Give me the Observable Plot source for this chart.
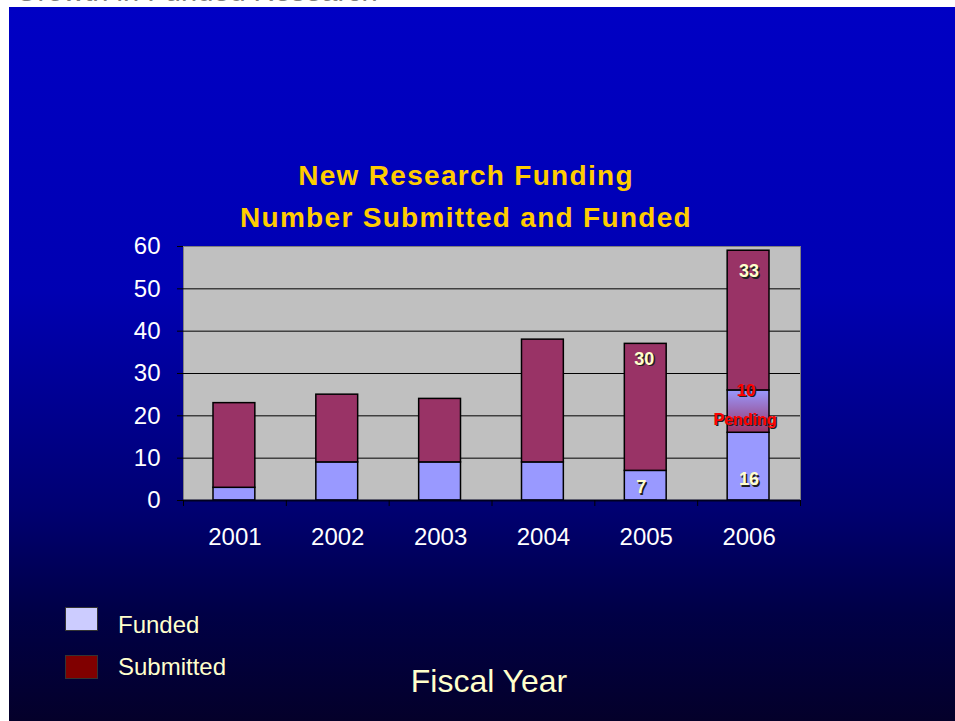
<!DOCTYPE html>
<html>
<head>
<meta charset="utf-8">
<script src="https://cdn.jsdelivr.net/npm/d3@7"></script>
<script src="https://cdn.jsdelivr.net/npm/@observablehq/plot@0.6"></script>
<style>
  html, body { margin: 0; padding: 0; background: #fff; }
  body { width: 955px; height: 721px; position: relative; overflow: hidden; font-family: "Liberation Sans", Arial, sans-serif; }
  #toptext { position: absolute; left: 15px; top: -23px; font-size: 29px; line-height: 29px; color: #808080; white-space: nowrap; }
  #bg { position: absolute; left: 9px; top: 7px; width: 946px; height: 714px;
        background: linear-gradient(to bottom, #0000C4 0%, #0000B2 40%, #000072 70%, #000046 85%, #04002A 100%); }
  .title { position: absolute; left: 166px; width: 600px; text-align: center; color: #FFCC00; font-weight: bold;
           font-size: 28px; letter-spacing: 1.3px; line-height: 28px; white-space: nowrap; }
  #chart { position: absolute; left: 0; top: 0; }
  .sw { position: absolute; left: 65px; width: 31px; height: 22px; border: 1px solid #333; }
  .lg { position: absolute; left: 118px; color: #FFFFCC; font-size: 24px; line-height: 24px; white-space: nowrap; }
  #xtitle { position: absolute; left: 289px; width: 400px; text-align: center; top: 665px; color: #FFFFCC; font-size: 32px; line-height: 32px; }
</style>
</head>
<body>
<div id="toptext">Growth in Funded Research</div>
<div id="bg"></div>
<div class="title" style="top:162px">New Research Funding</div>
<div class="title" style="top:204px">Number Submitted and Funded</div>
<div id="chart"></div>
<div class="sw" style="top:607px; background:#CCCCFF"></div>
<div class="lg" style="top:613px">Funded</div>
<div class="sw" style="top:655px; background:#800000"></div>
<div class="lg" style="top:655px">Submitted</div>
<div id="xtitle">Fiscal Year</div>
<script>
// ---- data ----
const years = [2001, 2002, 2003, 2004, 2005, 2006];
const funded = [3, 9, 9, 9, 7, 16];
const pending = [0, 0, 0, 0, 0, 10];
const submitted = [20, 16, 15, 29, 30, 33];
const yTicks = [0, 10, 20, 30, 40, 50, 60];
const labelledYears = [2005, 2006];
const pendingLabel = "Pending";

// ---- stacked table ----
const table = [];
years.forEach((year, i) => {
  let base = 0;
  [["Funded", funded[i]], ["Pending", pending[i]], ["Submitted", submitted[i]]].forEach(([series, value]) => {
    if (value > 0) table.push({year, series, value, y1: base, y2: base + value});
    base += value;
  });
});
const boundaries = years.map(y => y - 0.5).concat([years[years.length - 1] + 0.5]);
const seg = (s) => table.filter(d => d.series === s);
const lab = (s, y) => table.filter(d => d.series === s && d.year === y && labelledYears.includes(y));

const barOpts = {x1: d => d.year - 0.5, x2: d => d.year + 0.5, y1: "y1", y2: "y2",
                 stroke: "#000", strokeWidth: 1.5, insetLeft: 30, insetRight: 31};

function labelMarks(data, opts) {
  const {dx = 0, dy = 0, fill, fontSize, text} = opts;
  const base = {x: "year", y: opts.y, text, fontWeight: "bold", fontSize};
  return [
    Plot.text(data, {...base, dx: dx + 1.5, dy: dy + 1.5, fill: "#202020"}),
    Plot.text(data, {...base, dx, dy, fill})
  ];
}

const chart = Plot.plot({
  width: 955, height: 721,
  marginLeft: 183, marginRight: 155, marginTop: 246, marginBottom: 221,
  style: {background: "transparent", fontFamily: "'Liberation Sans', Arial, sans-serif", overflow: "visible"},
  x: {domain: [boundaries[0], boundaries[boundaries.length - 1]]},
  y: {domain: [0, 60]},
  marks: [
    Plot.frame({fill: "#C0C0C0", stroke: "#808080"}),
    Plot.ruleY(yTicks.filter(t => t > 0 && t < 60), {stroke: "#000", strokeWidth: 1}),
    Plot.rectY(seg("Funded"), {...barOpts, fill: "#9999FF"}),
    Plot.rectY(seg("Pending"), {...barOpts, fill: "url(#pendGrad)"}),
    Plot.rectY(seg("Submitted"), {...barOpts, fill: "#993366"}),
    Plot.ruleY([0], {stroke: "#000020", strokeWidth: 2}),
    Plot.axisY({ticks: yTicks, tickSize: 6, tickPadding: 17, stroke: "#000", fill: "#fff", fontSize: 24, label: null}),
    Plot.axisX({ticks: years, tickSize: 0, tickPadding: 27, tickFormat: d => String(d), fill: "#fff", fontSize: 24, label: null}),
    Plot.axisX({ticks: boundaries, tickSize: 6, tickFormat: () => "", stroke: "#000", label: null}),
    // value labels
    ...labelMarks(lab("Submitted", 2006), {y: "y2", dy: 21, text: d => String(d.value), fill: "#FFFFCC", fontSize: 18}),
    ...labelMarks(lab("Submitted", 2005), {y: "y2", dx: -2, dy: 15, text: d => String(d.value), fill: "#FFFFCC", fontSize: 18}),
    ...labelMarks(lab("Funded", 2005), {y: "y1", dx: -5, dy: -13, text: d => String(d.value), fill: "#FFFFCC", fontSize: 18}),
    ...labelMarks(lab("Funded", 2006), {y: "y1", dy: -21, text: d => String(d.value), fill: "#FFFFCC", fontSize: 18}),
    ...labelMarks(lab("Pending", 2006), {y: "y2", dx: -3, text: d => String(d.value), fill: "#FF0000", fontSize: 17}),
    ...labelMarks(lab("Pending", 2006), {y: "y1", dx: -4, dy: -13, text: () => pendingLabel, fill: "#FF0000", fontSize: 16})
  ]
});

d3.select(chart).insert("defs", ":first-child").html(
  '<linearGradient id="pendGrad" x1="0" y1="0" x2="0" y2="1">' +
  '<stop offset="0" stop-color="#9999FF"/><stop offset="1" stop-color="#993366"/></linearGradient>');

document.getElementById("chart").appendChild(chart);
</script>
</body>
</html>
